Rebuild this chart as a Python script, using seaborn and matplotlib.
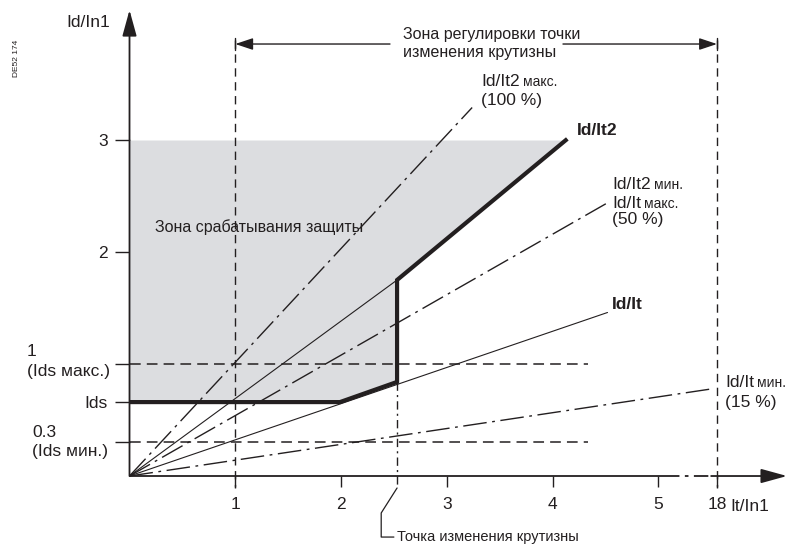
import matplotlib
matplotlib.use('Agg')
import matplotlib.pyplot as plt
import seaborn as sns
import pandas as pd

# ---------------- data ----------------
ytick_vals = [0.3, 0.66, 1.0, 2.0, 3.0]
ytick_labels = ['', 'Ids', '', '2', '3']
xtick_vals = [1, 2, 3, 4, 5, 5.555]
xtick_labels = ['1', '2', '3', '4', '5', '18']

ids_level = 0.66
ids_max = 1.0
ids_min = 0.3
slope_change_x = 2.53
zone_left_x = 1.0
zone_right_x = 5.555
zone_top = 3.0

ray_names = ['100 %', 'Id/It2 ext', '50 %', 'Id/It', '15 %']
ray_end_x = [3.24, 2.53, 4.54, 4.52, 5.52]
ray_end_y = [3.29, 1.75, 2.45, 1.46, 0.78]
ray_style = ['dashdot', 'solid', 'dashdot', 'solid', 'dashdot']

curve_x = [0.0, 1.99, 2.53, 2.53, 4.14]
curve_y = [0.66, 0.66, 0.84, 1.75, 3.01]

# ---------------- style ----------------
sns.set_theme(style='white')
plt.rcParams['font.family'] = ['Liberation Sans', 'DejaVu Sans']
INK = '#231f20'
GRAY = '#dcdde0'

fig = plt.figure(figsize=(7.91, 5.44), dpi=100)
ax = fig.add_axes([0, 0, 1, 1])
ax.set_xlim(-1.2246, 6.255)
ax.set_ylim(-0.607, 4.25)
ax.set_facecolor('white')

# zone fill
ax.fill_between(curve_x, curve_y, zone_top, color=GRAY, lw=0, zorder=1)

# rays from origin
rows = []
for n, ex, ey, st in zip(ray_names, ray_end_x, ray_end_y, ray_style):
    rows.append(dict(ray=n, x=0.0, y=0.0, st=st))
    rows.append(dict(ray=n, x=ex, y=ey, st=st))
rays = pd.DataFrame(rows)
dd = rays[rays.st == 'dashdot']
sns.lineplot(data=dd, x='x', y='y', units='ray', estimator=None, sort=False,
             color=INK, lw=1.0, ax=ax, legend=False, zorder=3)
for line in ax.lines:
    line.set_dashes((17, 4, 2, 4))
sl = rays[rays.st == 'solid']
sns.lineplot(data=sl, x='x', y='y', units='ray', estimator=None, sort=False,
             color=INK, lw=0.8, ax=ax, legend=False, zorder=3)

# characteristic curve
cdf = pd.DataFrame({'x': curve_x, 'y': curve_y})
sns.lineplot(data=cdf, x='x', y='y', estimator=None, sort=False,
             color=INK, lw=3.0, ax=ax, legend=False, zorder=5,
             solid_joinstyle='miter', solid_capstyle='butt')

# horizontal dashed levels
for lv in (ids_max, ids_min):
    ax.plot([0, 4.34], [lv, lv], color=INK, lw=1.1, dashes=(7, 4), zorder=4)

# vertical dashed lines
ax.plot([zone_left_x, zone_left_x], [3.89, -0.107], color=INK, lw=1.0, dashes=(6, 4), zorder=4)
ax.plot([zone_right_x, zone_right_x], [3.89, -0.107], color=INK, lw=1.0, dashes=(6, 4), zorder=4)
ax.plot([slope_change_x, slope_change_x], [0.84, -0.107], color=INK, lw=1.0, dashes=(6, 3, 1.5, 3), zorder=4)

# axes lines with arrows
arr = dict(arrowstyle='-|>,head_length=0.8,head_width=0.22', mutation_scale=20,
           lw=1.3, color=INK, shrinkA=0, shrinkB=0)
ax.annotate('', xy=(0, 4.16), xytext=(0, 0), arrowprops=arr, zorder=6)
ax.plot([0, 5.06], [0, 0], color=INK, lw=1.3, zorder=6, solid_capstyle='butt')
ax.plot([5.06, 5.5], [0, 0], color=INK, lw=1.3, dashes=(8, 3, 2, 3), zorder=6)
ax.annotate('', xy=(6.217, 0), xytext=(5.5, 0), arrowprops=arr, zorder=6)

# top double arrow
arr2 = dict(arrowstyle='-|>,head_length=0.9,head_width=0.3', mutation_scale=12,
            lw=1.0, color=INK, shrinkA=0, shrinkB=0)
ax.annotate('', xy=(zone_left_x, 3.857), xytext=(2.463, 3.857), arrowprops=arr2)
ax.annotate('', xy=(zone_right_x, 3.857), xytext=(4.099, 3.857), arrowprops=arr2)
for xx in (zone_left_x, zone_right_x):
    ax.plot([xx, xx], [3.80, 3.915], color=INK, lw=1.0)

# ticks
for s in ax.spines.values():
    s.set_visible(False)
ax.spines['left'].set_position(('data', 0))
ax.spines['bottom'].set_position(('data', 0))
ax.set_yticks(ytick_vals)
ax.set_yticklabels(ytick_labels)
ax.set_xticks(xtick_vals)
ax.set_xticklabels(xtick_labels)
ax.set_xlabel('')
ax.set_ylabel('')
ax.tick_params(axis='y', left=True, direction='out', length=10.5, width=1.0,
               color=INK, pad=5, labelsize=12.5, labelcolor=INK)
ax.tick_params(axis='x', bottom=True, direction='out', length=8.2, width=1.0,
               color=INK, pad=7, labelsize=12.5, labelcolor=INK)
ax.grid(False)

# texts
fs = 12.5
fl = 11.5
ax.text(-0.184, 4.045, 'Id/In1', ha='right', va='center', fontsize=fs, color=INK)
ax.text(-1.07, 3.73, 'DE52 174', rotation=90, ha='center', va='center', fontsize=6, color=INK)
ax.text(-0.97, 1.116, '1', ha='left', va='center', fontsize=fs, color=INK)
ax.text(-0.97, 0.93, '(Ids макс.)', ha='left', va='center', fontsize=fs, color=INK)
ax.text(-0.92, 0.39, '0.3', ha='left', va='center', fontsize=fs, color=INK)
ax.text(-0.92, 0.22, '(Ids мин.)', ha='left', va='center', fontsize=fs, color=INK)
ax.text(5.68, -0.268, 'It/In1', ha='left', va='center', fontsize=fs, color=INK)

ax.text(0.241, 2.223, 'Зона срабатывания защиты', ha='left', va='center', fontsize=fl, color=INK)
ax.text(2.586, 3.94, 'Зона регулировки точки', ha='left', va='center', fontsize=fl, color=INK)
ax.text(2.586, 3.777, 'изменения крутизны', ha='left', va='center', fontsize=fl, color=INK)

renderer = fig.canvas.get_renderer()


def mixed(x, y, big, small, weight='normal'):
    t = ax.text(x, y, big, ha='left', va='baseline', fontsize=fs, color=INK, fontweight=weight)
    bb = t.get_window_extent(renderer)
    x2 = ax.transData.inverted().transform((bb.x1 + 3, bb.y0))[0]
    ax.text(x2, y, small, ha='left', va='baseline', fontsize=fs * 0.8, color=INK)


def line_y(yc):
    return yc - 0.05

mixed(3.324, line_y(3.536), 'Id/It2', 'макс.')
ax.text(3.324, 3.357, '(100 %)', ha='left', va='center', fontsize=fs, color=INK)
ax.text(4.232, 3.089, 'Id/It2', ha='left', va='center', fontsize=fs, color=INK, fontweight='bold')
mixed(4.563, line_y(2.616), 'Id/It2', 'мин.')
mixed(4.563, line_y(2.446), 'Id/It', 'макс.')
ax.text(4.563, 2.286, '(50 %)', ha='left', va='center', fontsize=fs, color=INK)
ax.text(4.563, 1.527, 'Id/It', ha='left', va='center', fontsize=fs, color=INK, fontweight='bold')
mixed(5.631, line_y(0.848), 'Id/It', 'мин.')
ax.text(5.631, 0.66, '(15 %)', ha='left', va='center', fontsize=fs, color=INK)

# leader for slope change point
ax.plot([slope_change_x, 2.38, 2.38, 2.50], [-0.107, -0.33, -0.545, -0.545], color=INK, lw=0.9)
ax.text(2.53, -0.545, 'Точка изменения крутизны', ha='left', va='center', fontsize=10.5, color=INK)

fig.savefig('out.png', dpi=100)
